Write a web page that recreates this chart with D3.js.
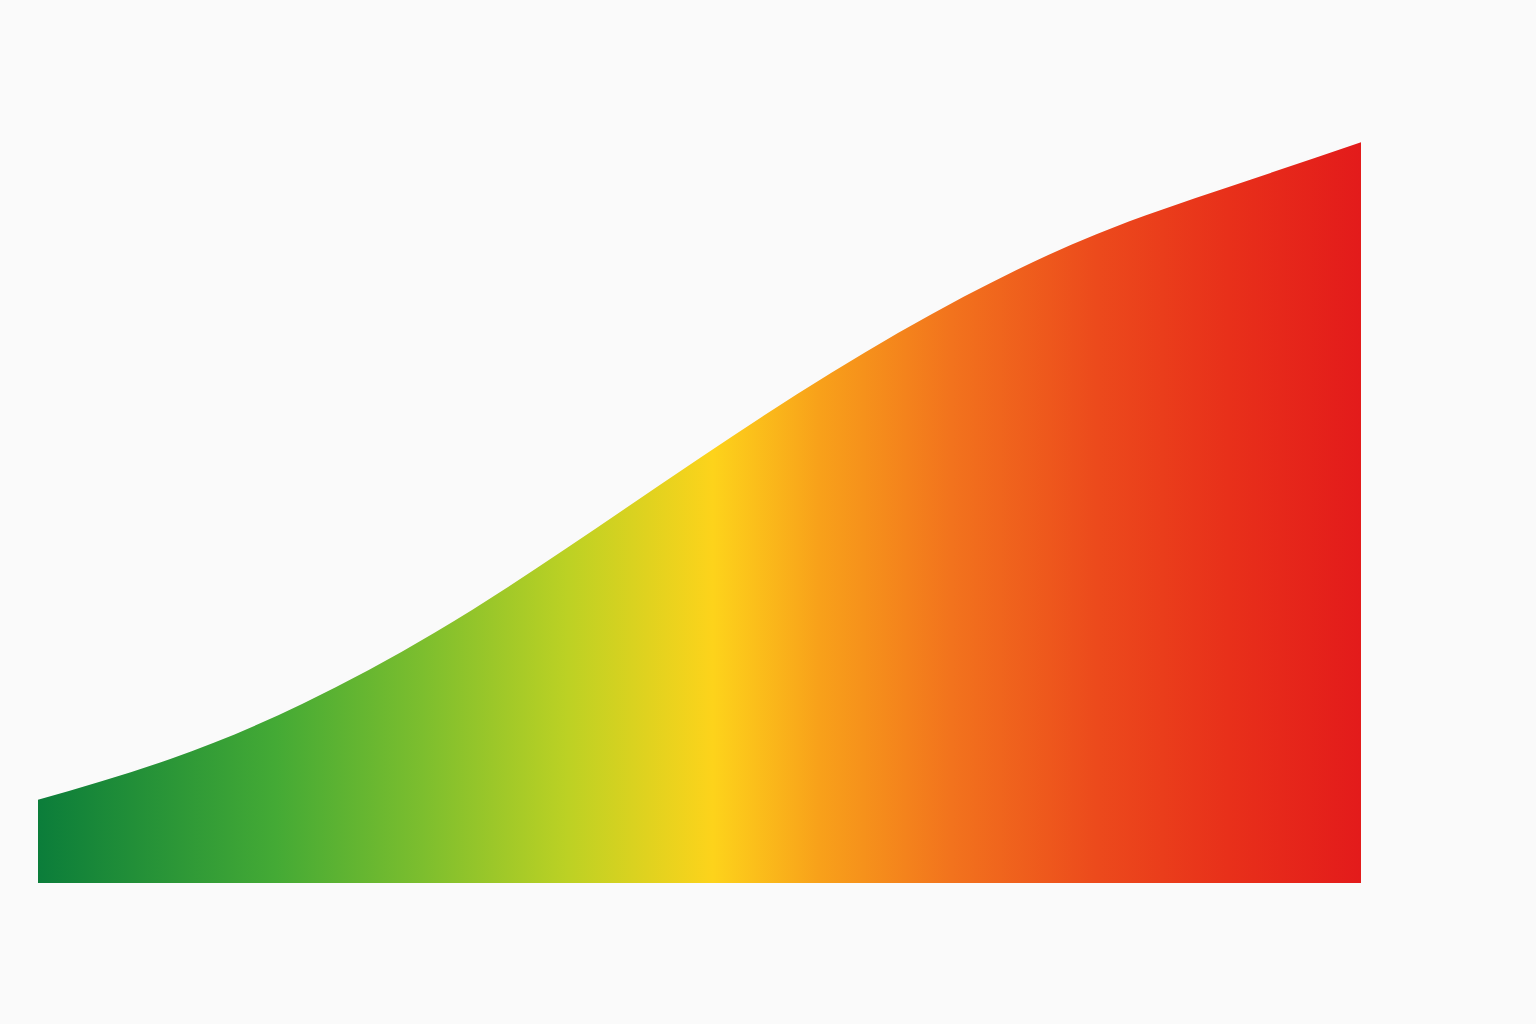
<!DOCTYPE html>
<html lang="en">
<head>
    <meta charset="UTF-8">
    <title>Gradient Area</title>
    <script src="https://d3js.org/d3.v7.min.js"></script>
    <style>
        html, body { margin: 0; padding: 0; background: #fafafa; }
        #chart { width: 1536px; height: 1024px; }
    </style>
</head>
<body>
    <div id="chart"></div>

    <script>
        // values
        const xValues = [0, 10, 20, 30, 40, 50, 60, 70, 80, 90, 100];
        const yValues = [10.4, 15.5, 22.4, 31.3, 41.9, 53.1, 63.8, 73.3, 81.1, 87.0, 92.6];

        // colour ramp along x (offset in %, colour)
        const stopOffsets = [0, 18, 29, 40, 51, 59, 69, 80, 90, 100];
        const stopColors = ["#0b7d3a", "#44aa35", "#7cbe2e", "#bcd124", "#fdd31b",
                            "#f8a11a", "#f2731d", "#ec4a1c", "#e8301a", "#e31b1b"];

        const width = 1536, height = 1024;
        const margin = { top: 83, right: 175, bottom: 141, left: 38 };

        const svg = d3.select("#chart").append("svg")
            .attr("width", width)
            .attr("height", height);

        const x = d3.scaleLinear()
            .domain([0, 100])
            .range([margin.left, width - margin.right]);

        const y = d3.scaleLinear()
            .domain([0, 100])
            .range([height - margin.bottom, margin.top]);

        const data = xValues.map((v, i) => ({ x: v, y: yValues[i] }));

        const grad = svg.append("defs").append("linearGradient")
            .attr("id", "areaGrad")
            .attr("gradientUnits", "userSpaceOnUse")
            .attr("x1", x(0)).attr("y1", 0)
            .attr("x2", x(100)).attr("y2", 0);

        grad.selectAll("stop")
            .data(stopOffsets)
            .enter().append("stop")
            .attr("offset", d => d + "%")
            .attr("stop-color", (d, i) => stopColors[i]);

        const area = d3.area()
            .x(d => x(d.x))
            .y0(y(0))
            .y1(d => y(d.y))
            .curve(d3.curveNatural);

        svg.append("path")
            .datum(data)
            .attr("d", area)
            .attr("fill", "url(#areaGrad)");
    </script>
</body>
</html>
